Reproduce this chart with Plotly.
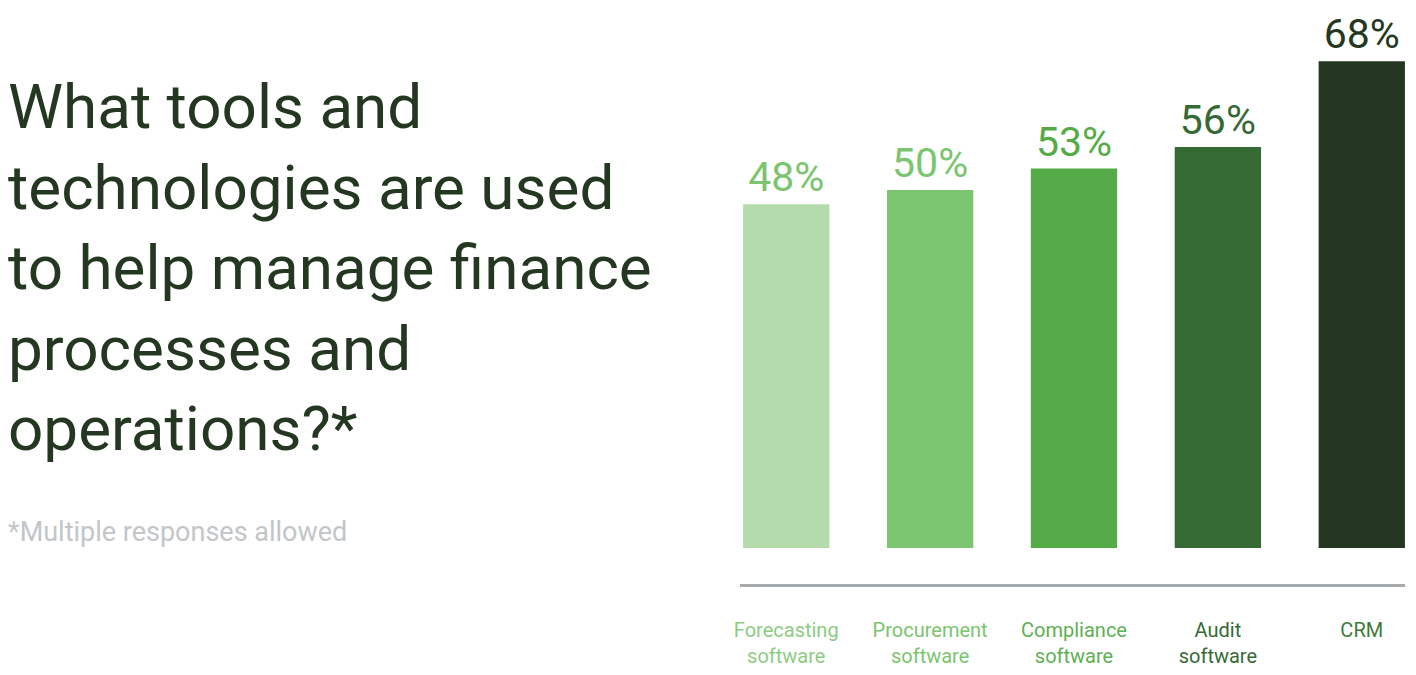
import plotly.graph_objects as go

categories = ["Forecasting<br>software", "Procurement<br>software", "Compliance<br>software", "Audit<br>software", "CRM"]
values = [48, 50, 53, 56, 68]
bar_colors = ["#b3dbab", "#7bc470", "#54ab47", "#366a34", "#243821"]
label_colors = ["#7bc470", "#7bc470", "#54ab47", "#366a34", "#243821"]
tick_colors = ["#8ccc82", "#7bc470", "#5fb055", "#366a34", "#3d7a3a"]

W, H = 1416, 675
FONT = "Roboto"
OFF = 8  # page body margin

fig = go.Figure()
fig.add_trace(go.Bar(
    x=list(range(len(categories))),
    y=values,
    width=0.6,
    marker=dict(color=bar_colors, line=dict(width=0)),
    text=[f"{v}%" for v in values],
    textposition="outside",
    textfont=dict(family=FONT, size=41, color=label_colors),
    cliponaxis=False,
    hoverinfo="skip",
))

ticktext = [f"<span style='color:{c}'>{t}</span>" for t, c in zip(categories, tick_colors)]

fig.update_layout(
    width=W, height=H,
    margin=dict(l=0, r=0, t=0, b=0),
    paper_bgcolor="white", plot_bgcolor="white",
    showlegend=False,
    font=dict(family=FONT),
    xaxis=dict(
        domain=[(737 - OFF) / W, (1405 - OFF) / W],
        range=[-0.322, 4.301],
        tickmode="array",
        tickvals=list(range(len(categories))),
        ticktext=ticktext,
        tickfont=dict(family=FONT, size=20, color="#7bc470"),
        showline=True, linecolor="#a7abad", linewidth=3,
        showgrid=False, zeroline=False,
        ticks="", ticklabelstandoff=26,
    ),
    yaxis=dict(
        domain=[(H - (584 - OFF)) / H, 1],
        range=[-5.03, 75.42],
        visible=False,
        showgrid=False, zeroline=False,
    ),
)

fig.add_annotation(
    xref="paper", yref="paper", x=-8 / W, y=1 - 60 / H,
    xanchor="left", yanchor="top", align="left", showarrow=False,
    text="What tools and<br>technologies are used<br>to help manage finance<br>processes and<br>operations?*",
    font=dict(family=FONT, size=62, color="#243821"),
)
fig.add_annotation(
    xref="paper", yref="paper", x=-8 / W, y=1 - 524 / H,
    xanchor="left", yanchor="middle", align="left", showarrow=False,
    text="*Multiple responses allowed",
    font=dict(family=FONT, size=27, color="#c2c6c9"),
)

fig.write_html("out.html")
